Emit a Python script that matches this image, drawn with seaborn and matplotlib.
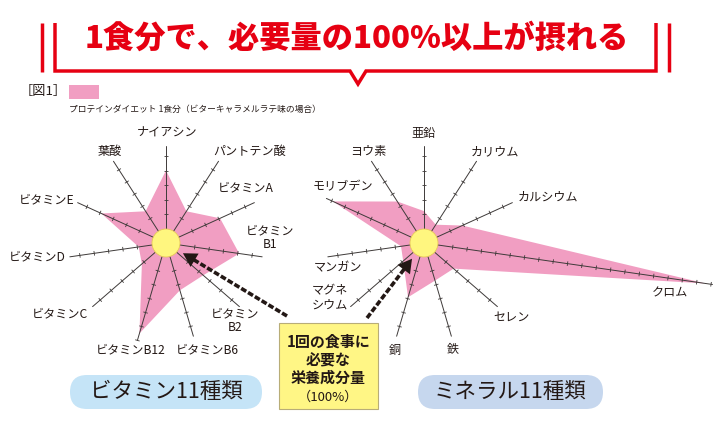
import matplotlib

matplotlib.use("Agg")
import matplotlib.pyplot as plt
import numpy as np
import pandas as pd
import seaborn as sns
from matplotlib.collections import LineCollection
from matplotlib.patches import Circle, FancyBboxPatch, Rectangle

sns.set_theme(style="white")
plt.rcParams["font.family"] = ["Noto Sans CJK JP", "DejaVu Sans"]

TITLE = "1食分で、必要量の100%以上が摂れる"
FIG_LABEL = "［図1］"
LEGEND_TEXT = "プロテインダイエット 1食分（ビターキャラメルラテ味の場合）"

# clockwise from the top, values as multiples of the 100% requirement
VITAMIN_LABELS = ["ナイアシン", "パントテン酸", "ビタミンA", "ビタミン\nB1", "ビタミン\nB2", "ビタミンB6",
                  "ビタミンB12", "ビタミンC", "ビタミンD", "ビタミンE", "葉酸"]
VITAMIN_VALUES = [5.0, 2.6, 4.1, 5.1, 3.4, 3.4, 6.5, 2.2, 1.9, 4.9, 2.6]

MINERAL_LABELS = ["亜鉛", "カリウム", "カルシウム", "クロム", "セレン", "鉄", "銅", "マグネ\nシウム",
                  "マンガン", "モリブデン", "ヨウ素"]
MINERAL_VALUES = [2.2, 1.5, 2.9, 19.6, 2.7, 2.7, 3.9, 1.9, 1.6, 6.9, 3.4]

BOX_LINES = ["1回の食事に", "必要な", "栄養成分量"]
BOX_NOTE = "（100%）"
GROUP_NAMES = ["ビタミン11種類", "ミネラル11種類"]

# layout (pixels, y downwards)
UNIT = 14.5
CIRCLE_R = 14
SPOKE_MIN = 6.7
TICK = 2.3
VIT_CENTER = (166, 243)
MIN_CENTER = (424, 243)
VIT_LABEL_XY = [(167, 133), (250, 151), (246, 188), (270, 238), (235, 321), (207, 350),
                (131, 350), (60, 314), (37, 257), (47, 200), (110, 151)]
MIN_LABEL_XY = [(424, 134), (495, 152), (548, 197), (670, 293), (512, 317), (453, 350),
                (395, 350), (330, 298), (338, 268), (343, 187), (368, 152)]

RED = "#e60012"
PINK = "#f19ec2"
YELLOW = "#fff67f"
LINE = "#3e3a39"
TEXT = "#231815"


def draw_radar(ax, center, values, labels, label_xy):
    cx, cy = center
    values = np.asarray(values, dtype=float)
    n = len(values)
    ang = np.arange(n) * 2 * np.pi / n
    dx, dy = np.sin(ang), -np.cos(ang)

    r = values * UNIT
    ax.fill(cx + r * dx, cy + r * dy, color=PINK, lw=0, zorder=1)

    lengths = np.maximum(SPOKE_MIN, values + 0.5) * UNIT
    spokes = pd.DataFrame({
        "spoke": np.repeat(np.arange(n), 2),
        "x": np.column_stack([np.full(n, cx), cx + lengths * dx]).ravel(),
        "y": np.column_stack([np.full(n, cy), cy + lengths * dy]).ravel(),
    })
    sns.lineplot(data=spokes, x="x", y="y", units="spoke", estimator=None, sort=False,
                 color=LINE, lw=0.7, ax=ax, zorder=2)

    segs = []
    for i in range(n):
        for k in range(2, int(lengths[i] / UNIT) + 1):
            px, py = cx + k * UNIT * dx[i], cy + k * UNIT * dy[i]
            segs.append([(px + TICK * dy[i], py - TICK * dx[i]), (px - TICK * dy[i], py + TICK * dx[i])])
    ax.add_collection(LineCollection(segs, colors=LINE, linewidths=0.6, zorder=2))

    ax.add_patch(Circle((cx, cy), CIRCLE_R, fc=YELLOW, ec="#e8c85a", lw=0.6, zorder=3))

    for lab, (x, y) in zip(labels, label_xy):
        ax.text(x, y, lab, ha="center", va="center", fontsize=8.7, color=TEXT, linespacing=1.05)


def draw_arrow(ax, start, center):
    start = np.asarray(start, dtype=float)
    center = np.asarray(center, dtype=float)
    u = (start - center) / np.linalg.norm(start - center)
    tip = center + (CIRCLE_R + 3) * u
    line_end = tip + 8 * u
    ax.plot([start[0], line_end[0]], [start[1], line_end[1]], color=TEXT, lw=2.6,
            ls=(0, (1.6, 0.6)), dash_capstyle="butt", zorder=4)
    ax.annotate("", xy=tip, xytext=tip + 12 * u,
                arrowprops=dict(arrowstyle="-|>,head_length=0.7,head_width=0.4",
                                color=TEXT, lw=0, mutation_scale=14), zorder=4)


def main():
    fig = plt.figure(figsize=(7.2, 4.3), dpi=100)
    ax = fig.add_axes([0, 0, 1, 1])

    # headline with bracket
    ax.text(357, 38, TITLE, ha="center", va="center", fontsize=22.5, fontweight="black", color=RED)
    ax.plot([42, 42], [23, 72], color=RED, lw=2.5, solid_capstyle="butt")
    ax.plot([669, 669], [23, 72], color=RED, lw=2.5, solid_capstyle="butt")
    ax.plot([55, 55, 350, 358, 366, 656, 656], [23, 71, 71, 84, 71, 71, 23],
            color=RED, lw=2.5, solid_capstyle="butt", solid_joinstyle="miter")

    # legend
    ax.text(43, 92, FIG_LABEL, ha="center", va="center", fontsize=9.5, color=TEXT)
    ax.add_patch(Rectangle((69, 85), 30, 14, fc=PINK, lw=0))
    ax.text(69, 109, LEGEND_TEXT, ha="left", va="center", fontsize=6.3, color=TEXT)

    draw_radar(ax, VIT_CENTER, VITAMIN_VALUES, VITAMIN_LABELS, VIT_LABEL_XY)
    draw_radar(ax, MIN_CENTER, MINERAL_VALUES, MINERAL_LABELS, MIN_LABEL_XY)

    draw_arrow(ax, (287, 316), VIT_CENTER)
    draw_arrow(ax, (367, 318), MIN_CENTER)

    # explanation box
    ax.add_patch(Rectangle((279, 323), 99, 86, fc="#fff685", ec="#b8ad78", lw=0.8, zorder=5))
    for i, line in enumerate(BOX_LINES):
        ax.text(328.5, 342 + 18 * i, line, ha="center", va="center", fontsize=10.8,
                fontweight="bold", color=TEXT, zorder=6)
    ax.text(328.5, 397, BOX_NOTE, ha="center", va="center", fontsize=9.5, color=TEXT, zorder=6)

    # group pills
    for (x0, w, xc), name, fc in zip([(70, 192, 166), (418, 185, 510.5)], GROUP_NAMES,
                                     ["#c5e4f7", "#c6d7ee"]):
        ax.add_patch(FancyBboxPatch((x0, 375), w, 34, boxstyle="round,pad=0,rounding_size=17",
                                    fc=fc, ec="none", zorder=1))
        ax.text(xc, 392, name, ha="center", va="center", fontsize=15.5, color=TEXT, zorder=2)

    ax.set_xlim(0, 720)
    ax.set_ylim(430, 0)
    ax.axis("off")
    fig.savefig("out.png", dpi=100, facecolor="white")


if __name__ == "__main__":
    main()
